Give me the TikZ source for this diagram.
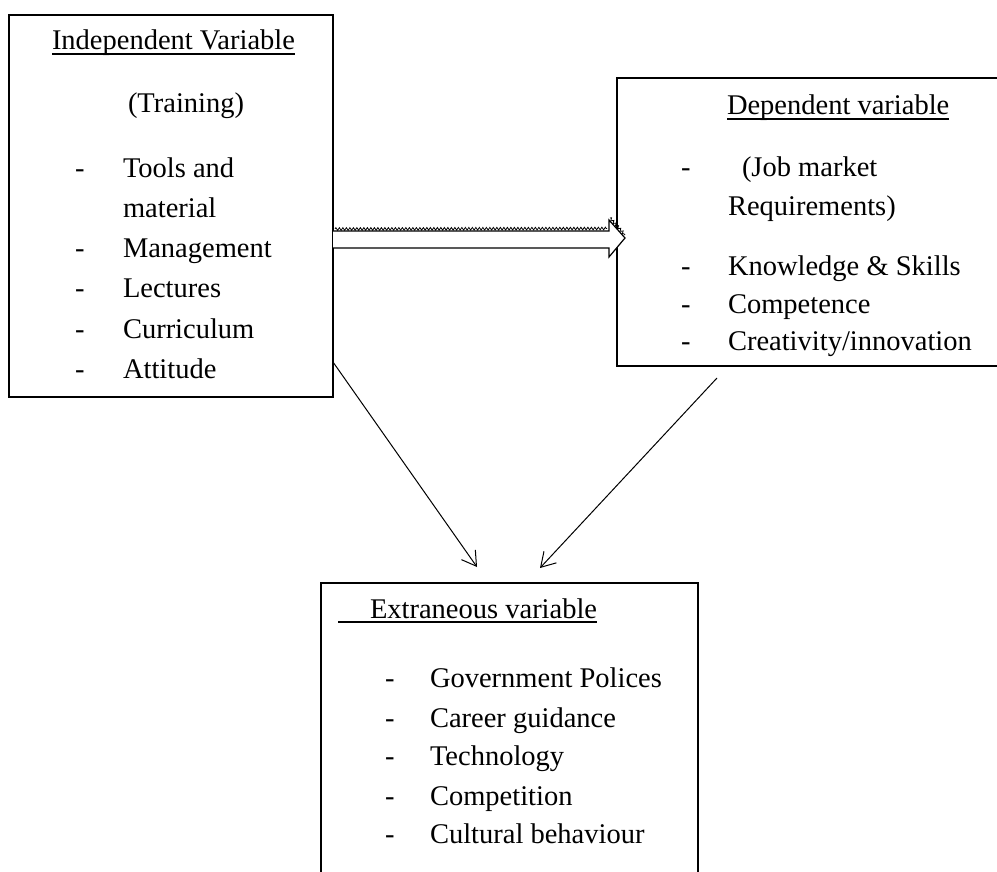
\documentclass[tikz,border=0pt]{standalone}
\usepackage{fontspec}
\setmainfont{Liberation Serif}
\usetikzlibrary{arrows.meta,calc,decorations.pathmorphing}
\begin{document}
\begin{tikzpicture}[x=1pt,y=-1pt,
  box/.style={draw, line width=1.3pt, inner sep=0pt, outer sep=0pt},
  txt/.style={anchor=base west, inner sep=0pt, outer sep=0pt, font=\fontsize{28.5}{34}\selectfont},
  link/.style={line width=1pt, -{Straight Barb[length=14pt,width=17pt,line width=1pt]}},
  uline/.style={line width=1.2pt},
  hollow/.style={draw, line width=1.2pt, fill=white, line join=miter},
  jag/.style={line width=0.8pt, decorate, decoration={zigzag, segment length=3.5pt, amplitude=1.3pt}}]
\useasboundingbox (0,0) rectangle (997,872);
\clip (0,0) rectangle (997,872);
\fill[white] (0,0) rectangle (997,872);

% boxes
\node[box, minimum width=324pt, minimum height=382pt] (iv) at (171,206) {};
\node[box, minimum width=383pt, minimum height=288pt] (dv) at (808.5,222) {};
\node[box, minimum width=377pt, minimum height=297pt] (ev) at (509.5,731.5) {};

% independent variable text
\node[txt] (ivh) at (52,50) {Independent Variable};
\draw[uline] ($(ivh.base west)+(0,4)$) -- ($(ivh.base east)+(0,4)$);
\node[txt] (ivt) at (128,113) {(Training)};
\node[txt] (ivd1) at (75,178) {-};
\node[txt] (ivi1) at (123,178) {Tools and};
\node[txt] (ivi1b) at (123,218) {material};
\node[txt] (ivd2) at (75,258) {-};
\node[txt] (ivi2) at (123,258) {Management};
\node[txt] (ivd3) at (75,298) {-};
\node[txt] (ivi3) at (123,298) {Lectures};
\node[txt] (ivd4) at (75,338) {-};
\node[txt] (ivi4) at (123,338) {Curriculum};
\node[txt] (ivd5) at (75,378) {-};
\node[txt] (ivi5) at (123,378) {Attitude};

% dependent variable text
\node[txt] (dvh) at (727,115) {Dependent variable};
\draw[uline] ($(dvh.base west)+(0,4)$) -- ($(dvh.base east)+(0,4)$);
\node[txt] (dvd1) at (681,177) {-};
\node[txt] (dvi1) at (742,177) {(Job market};
\node[txt] (dvi1b) at (728,215) {Requirements)};
\node[txt] (dvd2) at (681,275) {-};
\node[txt] (dvi2) at (728,275) {Knowledge \& Skills};
\node[txt] (dvd3) at (681,313) {-};
\node[txt] (dvi3) at (728,313) {Competence};
\node[txt] (dvd4) at (681,350) {-};
\node[txt] (dvi4) at (728,350) {Creativity/innovation};

% extraneous variable text
\node[txt] (evh) at (370,618) {Extraneous variable};
\draw[uline] ($(evh.base west)+(-32,4)$) -- ($(evh.base east)+(0,4)$);
\node[txt] (evd1) at (385,687) {-};
\node[txt] (evi1) at (430,687) {Government Polices};
\node[txt] (evd2) at (385,727) {-};
\node[txt] (evi2) at (430,727) {Career guidance};
\node[txt] (evd3) at (385,765) {-};
\node[txt] (evi3) at (430,765) {Technology};
\node[txt] (evd4) at (385,805) {-};
\node[txt] (evi4) at (430,805) {Competition};
\node[txt] (evd5) at (385,843) {-};
\node[txt] (evi5) at (430,843) {Cultural behaviour};

% hollow block arrow from iv to dv
\coordinate (hs) at ($(iv.east)+(0,33.5)$);
\coordinate (ht) at ($(dv.west)+(8,16)$);
\draw[hollow] ($(hs)+(0,-8.5)$) -- ($(ht)+(-16,-7)$) -- ($(ht)+(-16,-18)$) -- (ht)
  -- ($(ht)+(-16,19)$) -- ($(ht)+(-16,10)$) -- ($(hs)+(0,8.5)$);
\draw[jag] ($(hs)+(2,-10.5)$) -- ($(ht)+(-18,-9.5)$);
\draw[jag] ($(ht)+(-15,-20)$) -- ($(ht)+(0,-3)$);

% connectors to extraneous variable
\draw[link] ($(iv.south east)+(0,-35)$) -- ($(ev.north west)+(156,-16)$);
\draw[link] ($(dv.south west)+(100,12)$) -- ($(ev.north west)+(219,-15)$);
\end{tikzpicture}
\end{document}
